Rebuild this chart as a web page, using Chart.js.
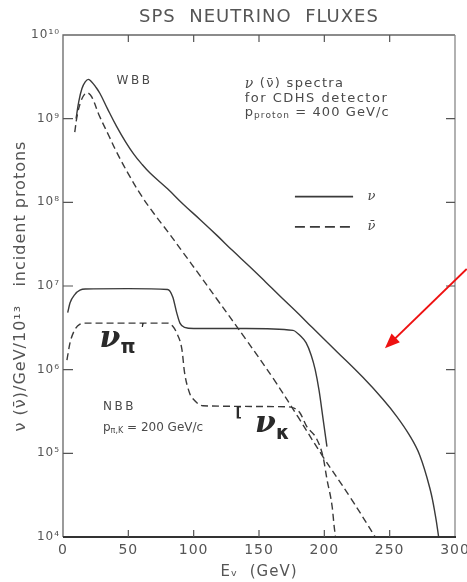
<!DOCTYPE html>
<html>
<head>
<meta charset="utf-8">
<script src="https://cdn.jsdelivr.net/npm/chart.js@4.4.0/dist/chart.umd.min.js"></script>
<style>
  html, body { margin: 0; padding: 0; background: #fff; }
</style>
</head>
<body>
<canvas id="fluxChart" width="467" height="582"></canvas>
<script>
// wide band beam, neutrino (solid)
const wbbNuE = [10, 12, 14.5, 17, 19.4, 22, 25, 28.3, 34, 41, 48, 54, 60, 66.6, 80, 92, 105, 118, 130, 143, 155, 166, 180, 191, 210, 229.5, 245, 255.5, 265, 273, 281, 285, 287.5];
const wbbNuFlux = [1.0e9, 1.58e9, 2.29e9, 2.75e9, 2.95e9, 2.75e9, 2.4e9, 2.0e9, 1.32e9, 8.1e8, 5.25e8, 3.8e8, 2.9e8, 2.24e8, 1.45e8, 9.5e7, 6.2e7, 4.0e7, 2.63e7, 1.7e7, 1.12e7, 7.6e6, 4.7e6, 3.16e6, 1.62e6, 8.1e5, 4.4e5, 2.75e5, 1.66e5, 9.5e4, 3.7e4, 1.8e4, 1.0e4];

// wide band beam, antineutrino (dashed)
const wbbAntiE = [9, 11, 14, 17, 19, 22, 28, 35, 41, 50, 60, 70, 80, 92, 105, 118, 140, 161, 180, 199, 220, 239];
const wbbAntiFlux = [6.9e8, 1.12e9, 1.66e9, 2.0e9, 2.04e9, 1.82e9, 1.07e9, 6.3e8, 4.0e8, 2.19e8, 1.2e8, 7.2e7, 4.5e7, 2.5e7, 1.32e7, 6.9e6, 2.3e6, 7.8e5, 2.7e5, 9.1e4, 2.95e4, 1.0e4];

// narrow band beam, neutrino (solid)
const nbbNuE = [3.6, 5.4, 9, 13, 17, 50, 80, 84, 87, 89.5, 93, 100, 140, 176, 182, 186, 190, 193, 196, 199, 202];
const nbbNuFlux = [4.8e6, 6.3e6, 7.9e6, 8.9e6, 9.2e6, 9.3e6, 9.1e6, 7.4e6, 4.8e6, 3.6e6, 3.2e6, 3.1e6, 3.1e6, 2.95e6, 2.5e6, 2.1e6, 1.48e6, 1.0e6, 5.6e5, 2.6e5, 1.2e5];

// narrow band beam, antineutrino (dashed)
const nbbAntiE = [3, 5.4, 9, 13, 17, 80, 84, 87, 91, 93, 97, 100, 107, 171, 181, 186.5, 194, 199, 202, 206, 207.5, 208.5];
const nbbAntiFlux = [1.3e6, 2.1e6, 3.0e6, 3.5e6, 3.6e6, 3.6e6, 3.3e6, 2.75e6, 1.75e6, 9.3e5, 5.2e5, 4.4e5, 3.7e5, 3.6e5, 3.1e5, 2.1e5, 1.5e5, 9.1e4, 4.9e4, 2.3e4, 1.35e4, 1.0e4];

const xTicks = [0, 50, 100, 150, 200, 250, 300];
const xTickLabels = ['0', '50', '100', '150', '200', '250', '300'];
const yTicks = [1e4, 1e5, 1e6, 1e7, 1e8, 1e9, 1e10];
const yTickLabels = ['10⁴', '10⁵', '10⁶', '10⁷', '10⁸', '10⁹', '10¹⁰'];

const INK = '#3a3a3a';
const TEXT = '#4a4a4a';
const FONT = "'DejaVu Sans', sans-serif";
const SERIF = "'DejaVu Serif', serif";
const DASH = [7, 4];

const pts = (xs, ys) => xs.map((x, i) => ({ x: x, y: ys[i] }));

// spaced-out lettering for the axis and title text, like the original drawing
const spacing = {
  id: 'spacing',
  beforeDraw(chart) { chart.ctx.letterSpacing = '1px'; },
  beforeDatasetsDraw(chart) { chart.ctx.letterSpacing = '0px'; }
};

const decorations = {
  id: 'decorations',
  afterDraw(chart) {
    const ctx = chart.ctx;
    const a = chart.chartArea;
    const xs = chart.scales.x, ys = chart.scales.y;
    const px = v => xs.getPixelForValue(v);
    const py = v => ys.getPixelForValue(v);

    ctx.save();
    // frame
    ctx.strokeStyle = '#666';
    ctx.lineWidth = 1.3;
    ctx.beginPath();
    ctx.moveTo(a.left, a.bottom); ctx.lineTo(a.left, a.top); ctx.lineTo(a.right, a.top);
    ctx.stroke();
    ctx.strokeStyle = '#888';
    ctx.beginPath();
    ctx.moveTo(a.right, a.top); ctx.lineTo(a.right, a.bottom);
    ctx.stroke();
    ctx.strokeStyle = '#333';
    ctx.lineWidth = 2;
    ctx.beginPath();
    ctx.moveTo(a.left, a.bottom); ctx.lineTo(a.right + 1, a.bottom);
    ctx.stroke();

    // inward ticks
    ctx.strokeStyle = '#555';
    ctx.lineWidth = 1.2;
    ctx.beginPath();
    xTicks.slice(1, -1).forEach(v => {
      const x = px(v);
      ctx.moveTo(x, a.bottom); ctx.lineTo(x, a.bottom - 7);
      ctx.moveTo(x, a.top); ctx.lineTo(x, a.top + 7);
    });
    yTicks.slice(1, -1).forEach(v => {
      const y = py(v);
      ctx.moveTo(a.left, y); ctx.lineTo(a.left + 10, y);
      ctx.moveTo(a.right, y); ctx.lineTo(a.right - 9, y);
    });
    ctx.stroke();

    const rich = (x, y, parts, ls) => {
      ctx.letterSpacing = (ls || 0) + 'px';
      ctx.textBaseline = 'middle';
      ctx.textAlign = 'left';
      let cx = x;
      parts.forEach(p => {
        ctx.font = (p.style || '') + ' ' + p.size + 'px ' + (p.family || FONT);
        ctx.fillText(p.t, cx, y + (p.dy || 0));
        cx += ctx.measureText(p.t).width;
      });
      ctx.letterSpacing = '0px';
    };
    ctx.fillStyle = TEXT;

    // WBB block
    rich(px(41), py(2.8e9), [{ t: 'WBB', size: 12 }], 2.5);
    const sx = px(139), sy = py(2.6e9);
    rich(sx, sy, [{ t: 'ν', size: 14, style: 'italic', family: SERIF }, { t: ' (ν̄) spectra', size: 13 }], 1.3);
    rich(sx, sy + 14.5, [{ t: 'for CDHS detector', size: 13 }], 1.5);
    rich(sx, sy + 29, [{ t: 'p', size: 13 }, { t: 'proton', size: 9, dy: 3 }, { t: ' = 400 GeV/c', size: 13 }], 1.1);

    // legend keyed to the dataset styles
    const ds = chart.data.datasets;
    [[ds[0], 1.17e8, 'ν'], [ds[1], 5.1e7, 'ν̄']].forEach(([d, yv, lab]) => {
      const y = py(yv);
      ctx.strokeStyle = d.borderColor;
      ctx.lineWidth = 1.8;
      ctx.setLineDash(d.borderDash ? [10, 5] : []);
      ctx.beginPath();
      ctx.moveTo(px(177.5), y); ctx.lineTo(px(222), y);
      ctx.stroke();
      ctx.setLineDash([]);
      rich(px(233), y, [{ t: lab, size: 13, style: 'italic', family: SERIF }]);
    });

    // NBB block
    const nx = px(30.6), ny = py(3.6e5);
    rich(nx, ny, [{ t: 'NBB', size: 12 }], 2.5);
    rich(nx, ny + 21, [{ t: 'p', size: 12 }, { t: 'π,K', size: 8, dy: 3 }, { t: ' = 200 GeV/c', size: 12 }], 0);

    // hand-written labels
    ctx.fillStyle = '#2a2a2a';
    rich(px(28), py(2.3e6), [{ t: 'ν', size: 30, style: 'bold italic', family: SERIF }, { t: 'π', size: 19, style: 'bold', dy: 9 }, { t: ' ʹ', size: 16, dy: -8 }]);
    rich(px(132), py(3.0e5), [{ t: '[', size: 14, style: 'bold' }]);
    rich(px(147), py(2.2e5), [{ t: 'ν', size: 30, style: 'bold italic', family: SERIF }, { t: 'κ', size: 19, style: 'bold', dy: 9 }]);

    // red arrow
    const x0 = px(309), y0 = py(1.6e7), x1 = px(246.4), y1 = py(1.8e6);
    const ang = Math.atan2(y1 - y0, x1 - x0);
    ctx.strokeStyle = '#ee1111';
    ctx.fillStyle = '#ee1111';
    ctx.lineWidth = 2;
    ctx.beginPath();
    ctx.moveTo(x0, y0);
    ctx.lineTo(x1 - 10 * Math.cos(ang), y1 - 10 * Math.sin(ang));
    ctx.stroke();
    ctx.beginPath();
    ctx.moveTo(x1, y1);
    ctx.lineTo(x1 - 15 * Math.cos(ang) + 6 * Math.sin(ang), y1 - 15 * Math.sin(ang) - 6 * Math.cos(ang));
    ctx.lineTo(x1 - 15 * Math.cos(ang) - 6 * Math.sin(ang), y1 - 15 * Math.sin(ang) + 6 * Math.cos(ang));
    ctx.closePath();
    ctx.fill();
    ctx.restore();
  }
};

// smooth wide-band curves, monotone for the stepped narrow-band ones
const smooth = { cubicInterpolationMode: 'default', tension: 0.4 };

const ctx = document.getElementById('fluxChart').getContext('2d');
const fluxChart = new Chart(ctx, {
  type: 'line',
  data: {
    datasets: [
      { label: 'WBB ν', data: pts(wbbNuE, wbbNuFlux), borderColor: INK, ...smooth },
      { label: 'WBB ν̄', data: pts(wbbAntiE, wbbAntiFlux), borderColor: INK, borderDash: DASH, ...smooth },
      { label: 'NBB ν', data: pts(nbbNuE, nbbNuFlux), borderColor: INK },
      { label: 'NBB ν̄', data: pts(nbbAntiE, nbbAntiFlux), borderColor: INK, borderDash: DASH }
    ]
  },
  options: {
    responsive: false,
    animation: false,
    layout: { padding: { left: 0, right: 12, top: 0, bottom: 0 } },
    elements: {
      point: { radius: 0 },
      line: { borderWidth: 1.4, cubicInterpolationMode: 'monotone', fill: false }
    },
    plugins: {
      legend: { display: false },
      tooltip: { enabled: false },
      title: {
        display: true,
        text: 'SPS  NEUTRINO  FLUXES',
        fullSize: false,
        color: '#555',
        font: { family: FONT, size: 18, weight: 'normal' },
        padding: { top: 7, bottom: 6.4 }
      }
    },
    scales: {
      x: {
        type: 'linear',
        min: 0,
        max: 300,
        afterBuildTicks: s => { s.ticks = xTicks.map(v => ({ value: v })); },
        afterFit: s => { s.height = 45; s.paddingLeft = 0; s.paddingRight = 0; },
        grid: { display: false, drawTicks: false },
        border: { display: false },
        ticks: {
          padding: 5,
          maxRotation: 0,
          color: '#555',
          font: { family: FONT, size: 14 },
          callback: (v, i) => xTickLabels[i]
        },
        title: {
          display: true,
          text: 'Eᵥ  (GeV)',
          color: '#555',
          font: { family: FONT, size: 15 },
          padding: { top: 0, bottom: 1 }
        }
      },
      y: {
        type: 'logarithmic',
        min: 1e4,
        max: 1e10,
        afterBuildTicks: s => { s.ticks = yTicks.map(v => ({ value: v })); },
        afterFit: s => { s.width = 63; s.paddingTop = 0; s.paddingBottom = 0; },
        grid: { display: false, drawTicks: false },
        border: { display: false },
        ticks: {
          padding: 3,
          color: '#555',
          font: { family: FONT, size: 12 },
          callback: (v, i) => yTickLabels[i]
        },
        title: {
          display: true,
          text: 'ν (ν̄)/GeV/10¹³   incident protons',
          color: '#555',
          font: { family: FONT, size: 16 },
          padding: { top: 11, bottom: 0 }
        }
      }
    }
  },
  plugins: [spacing, decorations]
});
</script>
</body>
</html>
